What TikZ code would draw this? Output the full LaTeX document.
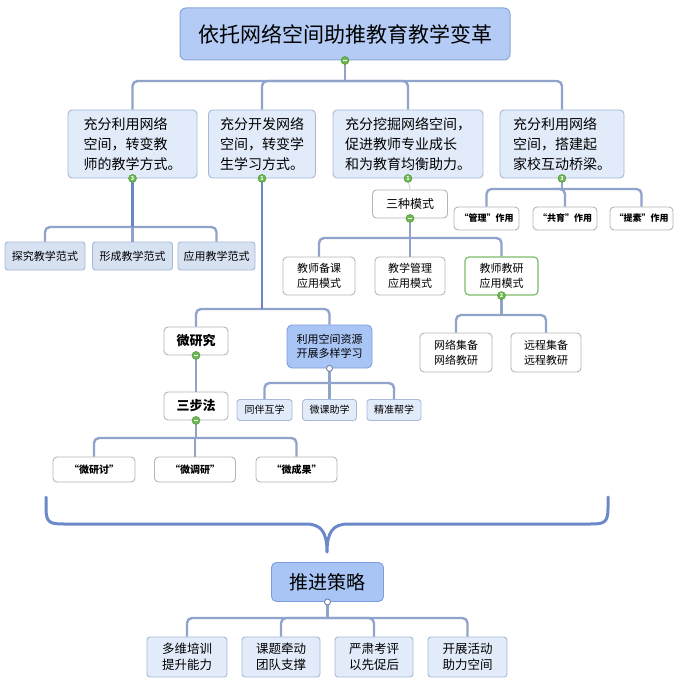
\documentclass[tikz,border=0pt]{standalone}
\usepackage{fontspec}
\setmainfont{Noto Sans CJK SC}
\definecolor{connc}{HTML}{8FA3CB}
\definecolor{trunkc}{HTML}{6A85C9}
\definecolor{lvonef}{HTML}{E2EBF9}
\definecolor{lvoneb}{HTML}{A7B9D6}
\definecolor{titlef}{HTML}{B3CBF5}
\definecolor{titleb}{HTML}{8AA7DA}
\definecolor{bboxf}{HTML}{A9C5F5}
\definecolor{bboxb}{HTML}{7C9DDC}
\definecolor{lbfill}{HTML}{D6E1F2}
\definecolor{wboxb}{HTML}{B5B5B5}
\definecolor{gdotc}{HTML}{6DB650}
\definecolor{gdotb}{HTML}{4E9A3A}
\definecolor{gbord}{HTML}{7DBB68}
\definecolor{bracec}{HTML}{6A88CA}
\begin{document}
\begin{tikzpicture}[x=1pt,y=-1pt,
 conn/.style={draw=connc, line width=2.4pt, rounded corners=5pt},
 trunk/.style={draw=trunkc, line width=2.8pt},
 thinconn/.style={draw=lvoneb!70, line width=0.8pt},
 titlebox/.style={draw=titleb, fill=titlef, rounded corners=6pt, line width=1pt, inner sep=0pt, font=\fontsize{21}{26}\selectfont},
 lvone/.style={draw=lvoneb, fill=lvonef, rounded corners=4pt, line width=0.9pt, inner sep=0pt, align=left, font=\fontsize{14}{20}\selectfont},
 wbox/.style={draw=wboxb, fill=white, rounded corners=4pt, line width=0.9pt, inner sep=0pt, align=center},
 lbbox/.style={draw=lvoneb, fill=lbfill, rounded corners=3pt, line width=0.9pt, inner sep=0pt, align=center},
 pbox/.style={draw=lvoneb, fill=lvonef, rounded corners=3pt, line width=0.9pt, inner sep=0pt, align=center},
 bbox/.style={draw=bboxb, fill=bboxf, rounded corners=5pt, line width=0.9pt, inner sep=0pt, align=center},
 gdot/.style={circle, fill=gdotc, draw=gdotb, line width=0.5pt, inner sep=0pt, minimum size=8pt, text=white, font=\fontsize{5.5}{6}\selectfont\bfseries},
 odot/.style={circle, fill=white, draw=connc!80!black, line width=0.9pt, inner sep=0pt, minimum size=6pt},
 minus/.style={draw=white, line width=1.2pt}
]
\useasboundingbox (0,0) rectangle (682,682);

% title
\node[titlebox, minimum width=330, minimum height=52] (title) at (345,34) {依托网络空间助推教育教学变革};

% level one
\node[lvone, minimum width=129, minimum height=68] (b1) at (132.5,144) {充分利用网络\\空间，转变教\\师的教学方式。};
\node[lvone, minimum width=107, minimum height=68] (b2) at (262,144) {充分开发网络\\空间，转变学\\生学习方式。};
\node[lvone, minimum width=150, minimum height=68] (b3) at (408,144) {充分挖掘网络空间，\\促进教师专业成长\\和为教育均衡助力。};
\node[lvone, minimum width=124, minimum height=68] (b4) at (562,144) {充分利用网络\\空间，搭建起\\家校互动桥梁。};

\coordinate (tb) at (345,81);
\draw[conn] (b1.north) |- (tb) -| (b4.north);
\draw[conn] (b2.north) |- (tb) -| (b3.north);
\draw[conn] (title.south) -- (tb);
\node[gdot] (tg) at (title.south) {};
\draw[minus] ([xshift=-2.2pt]tg.center) -- ([xshift=2.2pt]tg.center);

% b1 subtree
\node[lbbox, minimum width=80, minimum height=28, font=\fontsize{11}{13}\selectfont] (c11) at (45,256) {探究教学范式};
\node[lbbox, minimum width=80, minimum height=28, font=\fontsize{11}{13}\selectfont] (c12) at (132.5,256) {形成教学范式};
\node[lbbox, minimum width=77, minimum height=28, font=\fontsize{11}{13}\selectfont] (c13) at (216.5,256) {应用教学范式};
\coordinate (b1bar) at (132.5,227);
\draw[conn] (c11.north) |- (b1bar) -| (c13.north);
\draw[conn] (c12.north) -- (c12.north |- b1bar);
\draw[trunk] (b1.south) -- (b1bar);
\node[gdot] (d1) at (b1.south) {3};

% b2 subtree
\node[wbox, minimum width=64, minimum height=28, font=\fontsize{13}{15}\selectfont\bfseries] (m1) at (196,341) {微研究};
\node[bbox, minimum width=85, minimum height=43, font=\fontsize{11}{14}\selectfont] (m2) at (329.5,346.5) {利用空间资源\\开展多样学习};
\coordinate (b2bar) at (262,309);
\draw[conn] (m1.north) |- (b2bar) -| (m2.north);
\draw[trunk] (b2.south) -- (b2bar);
\node[gdot] (d2) at (b2.south) {1};

\node[wbox, minimum width=64, minimum height=28, font=\fontsize{13}{15}\selectfont\bfseries] (m3) at (196,406) {三步法};
\draw[conn] (m1.south) -- (m3.north);
\node[gdot] (gm1) at (m1.south) {};
\draw[minus] ([xshift=-2.2pt]gm1.center) -- ([xshift=2.2pt]gm1.center);

\node[wbox, minimum width=82, minimum height=25, font=\fontsize{10}{12}\selectfont\bfseries] (w1) at (94,469.5) {“微研讨”};
\node[wbox, minimum width=81, minimum height=25, font=\fontsize{10}{12}\selectfont\bfseries] (w2) at (195,469.5) {“微调研”};
\node[wbox, minimum width=81, minimum height=25, font=\fontsize{10}{12}\selectfont\bfseries] (w3) at (296.5,469.5) {“微成果”};
\coordinate (sbar) at (196,438);
\draw[conn] (w1.north) |- (sbar) -| (w3.north);
\draw[conn] (w2.north) -- (w2.north |- sbar);
\draw[conn] (m3.south) -- (sbar);
\node[gdot] (gm3) at (m3.south) {};
\draw[minus] ([xshift=-2.2pt]gm3.center) -- ([xshift=2.2pt]gm3.center);

\node[pbox, minimum width=55, minimum height=21, font=\fontsize{10}{12}\selectfont] (p1) at (264.5,410) {同伴互学};
\node[pbox, minimum width=54, minimum height=21, font=\fontsize{10}{12}\selectfont] (p2) at (329.5,410) {微课助学};
\node[pbox, minimum width=54, minimum height=21, font=\fontsize{10}{12}\selectfont] (p3) at (394,410) {精准帮学};
\coordinate (pbar) at (329.5,383);
\draw[conn] (p1.north) |- (pbar) -| (p3.north);
\draw[conn] (m2.south) -- (p2.north);
\node[odot] (od1) at (m2.south) {};

% b3 subtree
\node[wbox, minimum width=75, minimum height=28, font=\fontsize{12}{14}\selectfont] (sz) at (410,204) {三种模式};
\draw[thinconn] (b3.south) -- (sz.north);
\node[gdot] (d3) at (b3.south) {1};
\node[wbox, minimum width=72, minimum height=38, font=\fontsize{11}{15}\selectfont] (q1) at (319,276) {教师备课\\应用模式};
\node[wbox, minimum width=70, minimum height=38, font=\fontsize{11}{15}\selectfont] (q2) at (410,276) {教学管理\\应用模式};
\node[wbox, draw=gbord, line width=1.2pt, minimum width=73, minimum height=38, font=\fontsize{11}{15}\selectfont] (q3) at (501.5,276) {教师教研\\应用模式};
\coordinate (qbar) at (410,238);
\draw[conn] (q1.north) |- (qbar) -| (q3.north);
\draw[conn] (sz.south) -- (q2.north);
\node[gdot] (gsz) at (sz.south) {};
\draw[minus] ([xshift=-2.2pt]gsz.center) -- ([xshift=2.2pt]gsz.center);

\node[wbox, minimum width=72, minimum height=39, font=\fontsize{11}{15}\selectfont] (r1) at (456,352.5) {网络集备\\网络教研};
\node[wbox, minimum width=70, minimum height=39, font=\fontsize{11}{15}\selectfont] (r2) at (546,352.5) {远程集备\\远程教研};
\coordinate (rbar) at (501.5,315);
\draw[conn] (r1.north) |- (rbar) -| (r2.north);
\draw[conn] (q3.south) -- (rbar);
\node[gdot] (gq3) at (q3.south) {2};

% b4 subtree
\node[wbox, minimum width=65, minimum height=23, font=\fontsize{9}{11}\selectfont\bfseries] (s1) at (486.5,218.5) {“管理”作用};
\node[wbox, minimum width=64, minimum height=23, font=\fontsize{9}{11}\selectfont\bfseries] (s2) at (565,218.5) {“共育”作用};
\node[wbox, minimum width=63, minimum height=23, font=\fontsize{9}{11}\selectfont\bfseries] (s3) at (641.5,218.5) {“提素”作用};
\coordinate (s4bar) at (562,189);
\draw[conn] (s1.north) |- (s4bar) -| (s3.north);
\draw[conn] (s2.north) |- (s4bar);
\draw[conn] (b4.south) -- (s4bar);
\node[gdot] (d4) at (b4.south) {3};

% brace
\coordinate (brl) at (46,497);
\coordinate (brr) at (608,497);
\coordinate (brtip) at (327,552);
\draw[draw=bracec, line width=3pt, line cap=round, line join=round]
  (brl) -- (46,508) .. controls (46,523) and (50,524) .. (64,524) -- (306,524)
  .. controls (321,524) and (327,532) .. (brtip)
  .. controls (327,532) and (333,524) .. (348,524) -- (590,524)
  .. controls (604,524) and (608,523) .. (608,508) -- (brr);

% strategies
\node[bbox, minimum width=112, minimum height=39, font=\fontsize{19}{22}\selectfont] (tj) at (327.5,582) {推进策略};
\node[pbox, minimum width=80, minimum height=40, font=\fontsize{12.5}{16}\selectfont] (t1) at (187,657) {多维培训\\提升能力};
\node[pbox, minimum width=78, minimum height=40, font=\fontsize{12.5}{16}\selectfont] (t2) at (281,657) {课题牵动\\团队支撑};
\node[pbox, minimum width=78, minimum height=40, font=\fontsize{12.5}{16}\selectfont] (t3) at (374,657) {严肃考评\\以先促后};
\node[pbox, minimum width=79, minimum height=40, font=\fontsize{12.5}{16}\selectfont] (t4) at (467.5,657) {开展活动\\助力空间};
\coordinate (tbar) at (327.5,618);
\draw[conn] (t1.north) |- (tbar) -| (t4.north);
\draw[conn] (t2.north) |- (tbar) -| (t3.north);
\draw[conn] (tj.south) -- (tbar);
\node[odot] (od2) at (tj.south) {};
\end{tikzpicture}
\end{document}
